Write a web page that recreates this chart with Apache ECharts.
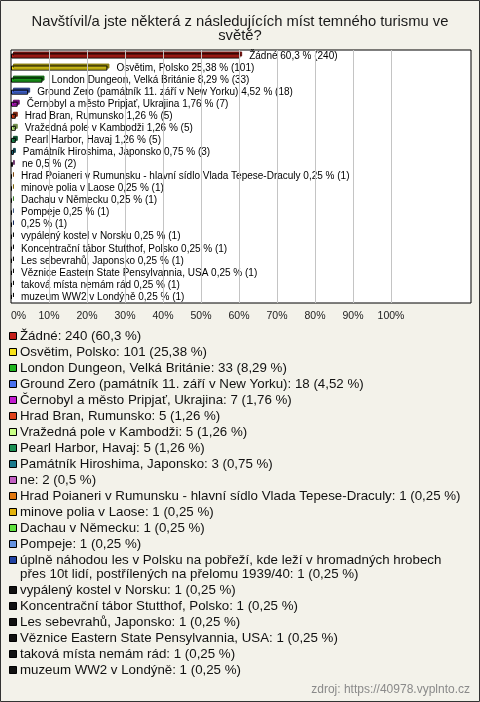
<!DOCTYPE html>
<html>
<head>
<meta charset="utf-8">
<script src="https://cdn.jsdelivr.net/npm/echarts@6/dist/echarts.min.js"></script>
<style>
html,body{margin:0;padding:0;background:#f3f2ea;}
#chart{width:480px;height:702px;}
</style>
</head>
<body>
<div id="chart"></div>
<script>
const titleText = "Navštívil/a jste některá z následujících míst temného turismu ve\nsvětě?";
const categories = [
  "Žádné",
  "Osvětim, Polsko",
  "London Dungeon, Velká Británie",
  "Ground Zero (památník 11. září v New Yorku)",
  "Černobyl a město Pripjať, Ukrajina",
  "Hrad Bran, Rumunsko",
  "Vražedná pole v Kambodži",
  "Pearl Harbor, Havaj",
  "Památník Hiroshima, Japonsko",
  "ne",
  "Hrad Poianeri v Rumunsku - hlavní sídlo Vlada Tepese-Draculy",
  "minove polia v Laose",
  "Dachau v Německu",
  "Pompeje",
  "úplně náhodou les v Polsku na pobřeží, kde leží v hromadných hrobech přes 10t lidí, postřílených na přelomu 1939/40",
  "vypálený kostel v Norsku",
  "Koncentrační tábor Stutthof, Polsko",
  "Les sebevrahů, Japonsko",
  "Věznice Eastern State Pensylvannia, USA",
  "taková místa nemám rád",
  "muzeum WW2 v Londýně"
];
const counts = [240, 101, 33, 18, 7, 5, 5, 5, 3, 2, 1, 1, 1, 1, 1, 1, 1, 1, 1, 1, 1];
const percents = [60.3, 25.38, 8.29, 4.52, 1.76, 1.26, 1.26, 1.26, 0.75, 0.5, 0.25, 0.25, 0.25, 0.25, 0.25, 0.25, 0.25, 0.25, 0.25, 0.25, 0.25];
const colors = ["#c41f1a", "#f7e21a", "#1fb51f", "#4a72ee", "#c21ccf", "#e0421b", "#c9ff85", "#1a8f52", "#1b7a8c", "#c25fc2", "#e2780f", "#e2b20c", "#5fe23f", "#6593e0", "#2143a3", "#111111", "#111111", "#111111", "#111111", "#111111", "#111111"];
const tickValues = [0, 10, 20, 30, 40, 50, 60, 70, 80, 90, 100];
const sourceText = "zdroj: https://40978.vyplnto.cz";

const fmt = v => String(v).replace('.', ',');
const barLabelName = n => (n.length > 100 ? '' : n + ' ');
function darken(hex, f) {
  const n = parseInt(hex.slice(1), 16);
  const r = Math.round(((n >> 16) & 255) * f), g = Math.round(((n >> 8) & 255) * f), b = Math.round((n & 255) * f);
  return 'rgb(' + r + ',' + g + ',' + b + ')';
}

const FONT = '"Liberation Sans", Arial, sans-serif';
const LFS = 13.3;
const cvs = document.createElement('canvas').getContext('2d');
cvs.font = LFS + 'px ' + FONT;
function wrapLines(text, maxW) {
  const words = text.split(' ');
  const lines = [];
  let cur = '';
  words.forEach(w => {
    const t = cur ? cur + ' ' + w : w;
    if (cvs.measureText(t).width > maxW && cur) { lines.push(cur); cur = w; }
    else cur = t;
  });
  if (cur) lines.push(cur);
  return lines;
}
const legendEls = [];
let ly = 336;
categories.forEach((c, i) => {
  const txt = c + ': ' + counts[i] + ' (' + fmt(percents[i]) + ' %)';
  const lines = wrapLines(txt, 446);
  legendEls.push({
    type: 'rect', shape: {x: 9.5, y: ly - 3.5, width: 7, height: 7},
    style: {fill: colors[i], stroke: '#000', lineWidth: 1}
  });
  lines.forEach((ln, k) => {
    legendEls.push({
      type: 'text', x: 20, y: ly + k * 14,
      style: {text: ln, font: LFS + 'px ' + FONT, fill: '#111', verticalAlign: 'middle', align: 'left'}
    });
  });
  ly += 16 + (lines.length - 1) * 14;
});

const chart = echarts.init(document.getElementById('chart'), null, {renderer: 'canvas'});
chart.setOption({
  backgroundColor: '#f3f2ea',
  animation: false,
  title: {
    text: titleText, left: 'center', top: 10,
    textStyle: {fontFamily: FONT, fontSize: 14.8, fontWeight: 'normal', color: '#1a1a1a', lineHeight: 14}
  },
  grid: {
    left: 11, top: 50, width: 460, height: 253, show: true,
    backgroundColor: '#ffffff', borderColor: '#000', borderWidth: 1
  },
  xAxis: {
    type: 'value', min: 0, max: 121.05, interval: 10,
    axisLine: {show: false}, axisTick: {show: false}, splitLine: {show: false},
    axisLabel: {
      margin: 8, fontFamily: FONT, fontSize: 10.5, color: '#222',
      alignMinLabel: 'left',
      formatter: v => (tickValues.indexOf(v) >= 0 ? v + '%' : '')
    }
  },
  yAxis: {
    type: 'category', data: categories, inverse: true,
    axisLine: {show: false}, axisTick: {show: false}, axisLabel: {show: false}, splitLine: {show: false}
  },
  series: [{
    type: 'bar',
    barWidth: 5,
    data: percents.map((p, i) => ({value: p, itemStyle: {color: colors[i], shadowColor: darken(colors[i], 0.55)}})),
    itemStyle: {borderColor: '#000', borderWidth: 1, shadowBlur: 0, shadowOffsetX: 2, shadowOffsetY: -2},
    label: {
      show: true, position: 'right', distance: 9,
      fontFamily: FONT, fontSize: 10, color: '#000',
      formatter: p => barLabelName(categories[p.dataIndex]) + fmt(percents[p.dataIndex]) + ' % (' + counts[p.dataIndex] + ')'
    },
    markLine: {
      silent: true, symbol: 'none', label: {show: false},
      lineStyle: {color: '#c4c4c4', width: 1, type: 'solid'},
      data: tickValues.filter(v => v > 0).map(v => ({xAxis: v}))
    },
    z: 3
  }],
  graphic: [
    {type: 'rect', shape: {x: 0.5, y: 0.5, width: 479, height: 701}, style: {fill: 'none', stroke: '#333', lineWidth: 1}, silent: true},
    {type: 'group', children: legendEls},
    {type: 'text', right: 10, top: 684, style: {text: sourceText, font: '12px ' + FONT, fill: '#8a8a8a'}}
  ]
});
</script>
</body>
</html>
